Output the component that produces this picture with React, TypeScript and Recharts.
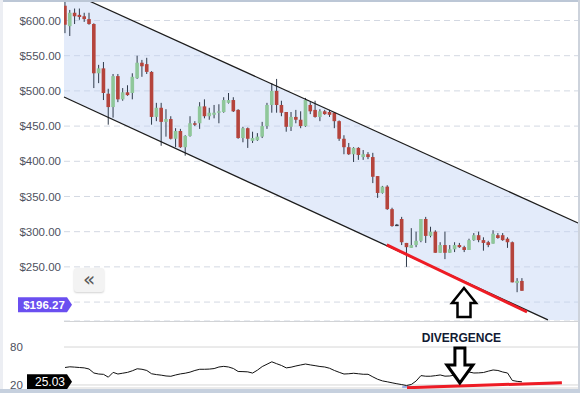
import {
  Area,
  Bar,
  CartesianGrid,
  ComposedChart,
  Line,
  ReferenceDot,
  ReferenceLine,
  XAxis,
  YAxis,
} from "recharts";

const opens = [621, 592, 611, 608, 606, 602, 595, 525, 532, 496, 477, 521, 488, 498, 497, 518, 540, 538, 527, 463, 476, 456, 460, 432, 443, 420, 436, 454, 454, 478, 464, 466, 469, 470, 483, 487, 473, 433, 447, 429, 430, 435, 450, 480, 500, 480, 470, 449, 463, 459, 450, 480, 473, 463, 471, 470, 469, 457, 432, 420, 410, 419, 406, 410, 406, 379, 355, 364, 332, 310, 318, 284, 277, 281, 287, 318, 294, 300, 270, 281, 270, 275, 281, 278, 274, 288, 295, 288, 285, 283, 295, 295, 290, 285, 227, 230];
const highs = [628, 615, 617, 617, 611, 611, 596, 537, 541, 503, 524, 524, 504, 508, 525, 550, 544, 547, 528, 483, 483, 474, 464, 447, 446, 437, 464, 457, 484, 488, 476, 480, 481, 491, 497, 491, 474, 449, 448, 442, 440, 456, 483, 511, 517, 486, 470, 470, 473, 471, 490, 484, 486, 474, 473, 473, 470, 458, 437, 426, 420, 420, 416, 413, 412, 379, 365, 366, 334, 311, 321, 284, 305, 300, 318, 321, 307, 302, 285, 300, 281, 285, 284, 280, 290, 298, 300, 292, 287, 302, 298, 298, 292, 286, 234, 234];
const lows = [582, 578, 595, 601, 598, 594, 504, 511, 487, 452, 462, 484, 486, 493, 488, 517, 520, 524, 452, 457, 422, 435, 431, 420, 419, 408, 435, 450, 446, 461, 459, 461, 454, 469, 482, 470, 432, 427, 419, 426, 429, 433, 446, 469, 469, 464, 442, 443, 454, 447, 449, 467, 462, 457, 466, 463, 447, 429, 410, 409, 399, 402, 402, 403, 369, 348, 354, 331, 307, 308, 281, 250, 277, 278, 285, 284, 292, 270, 270, 261, 270, 271, 277, 271, 274, 287, 285, 273, 278, 283, 290, 287, 277, 228, 214, 216];
const closes = [594, 611, 606, 605, 602, 595, 525, 532, 497, 477, 521, 488, 498, 494, 520, 540, 535, 527, 463, 476, 456, 460, 432, 443, 420, 436, 454, 452, 478, 464, 469, 469, 471, 487, 487, 471, 433, 447, 432, 433, 435, 450, 480, 500, 480, 469, 449, 463, 459, 450, 487, 471, 463, 471, 467, 466, 457, 432, 420, 410, 419, 409, 410, 406, 378, 355, 364, 332, 308, 309, 285, 278, 281, 287, 318, 294, 300, 270, 281, 270, 275, 281, 278, 274, 288, 295, 288, 284, 281, 297, 291, 288, 285, 228, 230, 216];
const rsi = [47.6, 48.7, 48.2, 47.6, 47, 45.2, 38.9, 37.3, 36.8, 32.3, 39.9, 37.3, 38.6, 39.9, 42.4, 45.6, 44.8, 42.9, 37.7, 36.4, 35.5, 34.2, 33.7, 35.8, 37.5, 38.6, 40.3, 42.9, 44.8, 44.8, 45.1, 45.9, 48.4, 49.4, 48.4, 46, 41.3, 41.1, 40.7, 38.8, 43.4, 49.1, 52.8, 56.6, 53.6, 50.8, 47, 48.1, 50, 51.6, 53.1, 51.7, 50.5, 49.2, 48.4, 46.4, 42.9, 40, 37.3, 37.7, 38.5, 37.7, 36.9, 36.9, 32.8, 29, 26.4, 25, 23.4, 21.9, 20.6, 19.1, 20.8, 26.3, 34.8, 33.8, 33.8, 34.7, 35.8, 33.9, 34.2, 35.7, 37, 38.6, 40.5, 38.9, 39.1, 39.7, 41.8, 43.7, 42.9, 40.5, 38.9, 27.1, 25.7, 25.0];

const priceTicks = [200, 250, 300, 350, 400, 450, 500, 550, 600];
const rsiTicks = [20, 80];

// trend channel drawn on the price panel
const channelX = [-0.21, 4.57, 100.4, 106.65];
const channelLow = [491.3, 476.3, 174.6, 174.6];
const channelHigh = [629.1, 629.1, 331.1, 312.3];

const lastPrice = 196.27;
const lastRsi = 25.03;

const candles = opens.map((o, i) => ({
  i,
  open: o,
  high: highs[i],
  low: lows[i],
  close: closes[i],
  range: [lows[i], highs[i]],
  rsi: rsi[i],
}));

const channel = channelX.map((x, k) => ({ i: x, band: [channelLow[k], channelHigh[k]] }));

const X_DOMAIN: [number, number] = [-0.21, 106.65];
const FONT = "'Liberation Sans', Arial, sans-serif";
const RED = "#b5443c";
const GREEN = "#8fc79a";

const Candle = (props: any) => {
  const { x, y, width, height, payload } = props;
  if (!payload) return null;
  const { open, close, high, low } = payload;
  const top = Math.min(y, y + height);
  const h = Math.abs(height);
  const ratio = high === low ? 0 : h / (high - low);
  const cx = x + width / 2;
  const bodyTop = top + (high - Math.max(open, close)) * ratio;
  const bodyH = Math.max(1.5, Math.abs(open - close) * ratio);
  const up = close > open;
  const doji = Math.abs(open - close) < 1.5;
  return (
    <g>
      <line x1={cx} x2={cx} y1={top} y2={top + h} stroke="#2f3a4a" strokeWidth={1} />
      <rect
        x={cx - 1.8}
        y={bodyTop}
        width={3.6}
        height={bodyH}
        fill={doji ? "#3a3f4a" : up ? GREEN : RED}
      />
    </g>
  );
};

const PriceBadge = (props: any) => {
  const { cx, cy } = props;
  return (
    <g>
      <path
        d={`M${cx - 46},${cy - 7.5} H${cx + 3} L${cx + 8},${cy} L${cx + 3},${cy + 7.5} H${cx - 46} Z`}
        fill="#6a4ff0"
      />
      <text x={cx - 20} y={cy + 4} textAnchor="middle" fill="#fff" fontSize={11.5} fontWeight="bold" fontFamily={FONT}>
        ${lastPrice.toFixed(2)}
      </text>
    </g>
  );
};

const RsiBadge = (props: any) => {
  const { cx, cy } = props;
  return (
    <g>
      <path
        d={`M${cx - 37},${cy - 7.5} H${cx + 3} L${cx + 8},${cy} L${cx + 3},${cy + 7.5} H${cx - 37} Z`}
        fill="#000"
      />
      <text x={cx - 14} y={cy + 4.5} textAnchor="middle" fill="#fff" fontSize={12} fontFamily={FONT}>
        {lastRsi.toFixed(2)}
      </text>
    </g>
  );
};

const UpArrow = (props: any) => {
  const { cx, cy } = props;
  const pts = [
    [0, 0], [12, 15], [6.5, 15], [6.5, 29], [-6.5, 29], [-6.5, 15], [-12, 15],
  ].map(([a, b]) => `${cx + a},${cy + b}`).join(" ");
  return <polygon points={pts} fill="#fff" stroke="#000" strokeWidth={2.5} strokeLinejoin="miter" />;
};

const DownArrow = (props: any) => {
  const { cx, cy } = props;
  const pts = [
    [0, 0], [-13, -18], [-5, -18], [-5, -35], [5, -35], [5, -18], [13, -18],
  ].map(([a, b]) => `${cx + a},${cy + b}`).join(" ");
  return (
    <g>
      <text x={cx + 1.5} y={cy - 41} textAnchor="middle" fill="#111a33" fontSize={12} fontWeight="bold" fontFamily={FONT}>
        DIVERGENCE
      </text>
      <polygon points={pts} fill="#fff" stroke="#000" strokeWidth={3} strokeLinejoin="miter" />
    </g>
  );
};

const RsiTick = (props: any) => {
  const { y, payload } = props;
  return (
    <text x={10} y={y + 4} fill="#4d5160" fontSize={11.5} fontFamily={FONT}>
      {payload.value}
    </text>
  );
};

export default function App() {
  return (
    <div style={{ position: "relative", width: 580, height: 393, overflow: "hidden", background: "#fff" }}>
      <style>{"body{margin:0}"}</style>

      <ComposedChart width={580} height={321} data={candles} margin={{ top: 0, right: 2, bottom: 0, left: 0 }}>
        <CartesianGrid vertical={false} stroke="#d3d8e2" strokeDasharray="6 4" />
        <XAxis dataKey="i" type="number" domain={X_DOMAIN} hide allowDataOverflow />
        <YAxis
          width={64}
          domain={[173.1, 629.12]}
          ticks={priceTicks}
          interval={0}
          allowDataOverflow
          axisLine={false}
          tickLine={false}
          tickSize={0}
          tickMargin={3}
          tick={{ fill: "#4d5160", fontSize: 11.5, fontFamily: FONT }}
          tickFormatter={(v: number) => (v === 200 ? "" : `$${v.toFixed(2)}`)}
        />
        <Area
          data={channel}
          dataKey="band"
          type="linear"
          stroke="none"
          fill="#c2d3f5"
          fillOpacity={0.45}
          isAnimationActive={false}
        />
        <ReferenceLine segment={[{ x: 4.57, y: 629.1 }, { x: 106.65, y: 312.3 }]} stroke="#1c1c1c" strokeWidth={1.3} />
        <ReferenceLine segment={[{ x: -0.21, y: 491.3 }, { x: 100.4, y: 174.6 }]} stroke="#1c1c1c" strokeWidth={1.3} />
        <Bar dataKey="range" barSize={4} shape={<Candle />} isAnimationActive={false} />
        <ReferenceLine segment={[{ x: 66.9, y: 281.1 }, { x: 96.05, y: 185.9 }]} stroke="#ee1c25" strokeWidth={3} />
        <ReferenceDot x={82.95} y={220} ifOverflow="visible" shape={<UpArrow />} />
        <ReferenceDot x={-0.21} y={lastPrice} ifOverflow="visible" shape={<PriceBadge />} />
      </ComposedChart>

      <div style={{ position: "absolute", left: 64, top: 321, width: 516, height: 1, background: "#cfd2d8" }} />

      <div style={{ position: "absolute", left: 0, top: 321 }}>
        <ComposedChart width={580} height={72} data={candles} margin={{ top: 0, right: 2, bottom: 5, left: 0 }}>
          <CartesianGrid vertical={false} stroke="#d6d6d6" />
          <XAxis dataKey="i" type="number" domain={X_DOMAIN} hide allowDataOverflow />
          <YAxis
            width={64}
            domain={[15.2, 121.1]}
            ticks={rsiTicks}
            interval={0}
            allowDataOverflow
            axisLine={false}
            tickLine={false}
            tick={<RsiTick />}
          />
          <Line dataKey="rsi" type="linear" stroke="#111" strokeWidth={1} dot={false} isAnimationActive={false} />
          <ReferenceLine segment={[{ x: 70.1, y: 16.8 }, { x: 102.9, y: 22.6 }]} stroke="#4a6fd8" strokeWidth={1.2} />
          <ReferenceLine segment={[{ x: 71.1, y: 15.7 }, { x: 103.3, y: 23.6 }]} stroke="#ee1c25" strokeWidth={3} />
          <ReferenceDot x={82.1} y={23.1} ifOverflow="visible" shape={<DownArrow />} />
          <ReferenceDot x={-0.21} y={lastRsi} ifOverflow="visible" shape={<RsiBadge />} />
        </ComposedChart>
      </div>

      <div
        style={{
          position: "absolute",
          left: 74,
          top: 268,
          width: 30,
          height: 24,
          background: "#f3f3f3",
          borderRadius: 3,
          boxShadow: "0 1px 2px rgba(0,0,0,0.18)",
          color: "#5a5a5a",
          fontFamily: "'DejaVu Sans', sans-serif",
          fontSize: 20,
          lineHeight: "22px",
          textAlign: "center",
        }}
      >
        «
      </div>

      <div style={{ position: "absolute", left: 0, top: 0, width: 580, height: 2, background: "#bcc7d6" }} />
      <div style={{ position: "absolute", left: 0, top: 0, width: 3, height: 393, background: "#eceef3" }} />
      <div style={{ position: "absolute", left: 578, top: 0, width: 2, height: 393, background: "#cdd3dc" }} />
      <div style={{ position: "absolute", left: 0, top: 389, width: 580, height: 4, background: "#c6d0de" }} />
    </div>
  );
}
